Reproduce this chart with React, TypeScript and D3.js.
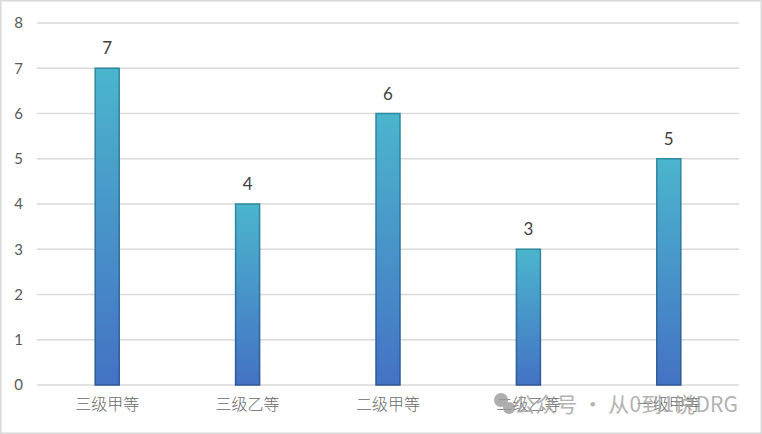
import { useEffect, useRef } from "react";
import * as d3 from "d3";

const categories = ["三级甲等", "三级乙等", "二级甲等", "二级乙等", "一级甲等"];
const values = [7, 4, 6, 3, 5];
const yTicks = [0, 1, 2, 3, 4, 5, 6, 7, 8];

const W = 762;
const H = 434;
const margin = { top: 23, right: 23, bottom: 49, left: 37 };

export default function App() {
  const ref = useRef<SVGGElement>(null);
  const width = W - margin.left - margin.right;
  const height = H - margin.top - margin.bottom;

  const x = d3.scaleBand().domain(categories).range([0, width]);
  const y = d3.scaleLinear().domain([0, 8]).range([height, 0]);
  const barW = 24;

  useEffect(() => {
    if (!ref.current) return;
    const g = d3.select(ref.current);
    g.selectAll("*").remove();

    // y axis labels
    const ya = g.append("g").call(d3.axisLeft(y).tickValues(yTicks).tickSize(0).tickPadding(14));
    ya.select(".domain").remove();
    ya.selectAll("text")
      .attr("fill", "#595959")
      .attr("font-size", 15)
      .attr("font-family", "Lato, 'Open Sans', sans-serif");

    // x axis labels
    const xa = g
      .append("g")
      .attr("transform", `translate(0,${height})`)
      .call(d3.axisBottom(x).tickSize(0).tickPadding(14));
    xa.select(".domain").remove();
    xa.selectAll("text")
      .attr("fill", "#6a6a6a")
      .attr("font-size", 16)
      .attr("font-weight", 300)
      .attr("font-family", "'Noto Sans CJK SC', sans-serif");
  }, []);

  return (
    <svg
      width={W}
      height={H}
      style={{ position: "absolute", left: 0, top: 0, background: "#fff" }}
    >
      <defs>
        <linearGradient id="barFill" x1="0" y1="0" x2="0" y2="1">
          <stop offset="0%" stopColor="#4bb5cd" />
          <stop offset="100%" stopColor="#4472c4" />
        </linearGradient>
        <linearGradient id="barStroke" x1="0" y1="0" x2="0" y2="1">
          <stop offset="0%" stopColor="#2e8aa0" />
          <stop offset="100%" stopColor="#2f5597" />
        </linearGradient>
      </defs>
      <rect x={0.75} y={0.75} width={W - 1.5} height={H - 1.5} fill="#fff" stroke="#d9d9d9" strokeWidth={1.5} />
      <g transform={`translate(${margin.left},${margin.top})`}>
        {yTicks.map((t) => (
          <line
            key={t}
            x1={0}
            x2={width}
            y1={y(t)}
            y2={y(t)}
            stroke="#d9d9d9"
            strokeWidth={1.5}
          />
        ))}
        {categories.map((c, i) => {
          const cx = (x(c) as number) + x.bandwidth() / 2;
          return (
            <g key={c}>
              <rect
                x={cx - barW / 2}
                y={y(values[i])}
                width={barW}
                height={height - y(values[i])}
                fill="url(#barFill)"
                stroke="url(#barStroke)"
                strokeWidth={1.5}
              />
              <text
                x={cx}
                y={y(values[i]) - 14}
                textAnchor="middle"
                fontSize={17}
                fill="#404040"
                fontFamily="Lato, 'Open Sans', sans-serif"
              >
                {values[i]}
              </text>
            </g>
          );
        })}
        <g ref={ref} />
      </g>
      <g opacity={0.8}>
        <circle cx={501} cy={400} r={7} fill="#9a9a9a" />
        <circle cx={509} cy={408} r={6} fill="#9a9a9a" />
        <text
          x={514}
          y={412}
          fontSize={21}
          fill="#a0a0a0"
          textLength={224}
          lengthAdjust="spacing"
          fontFamily="'Noto Sans CJK SC', sans-serif"
        >
          公众号 · 从0到1说DRG
        </text>
      </g>
    </svg>
  );
}
